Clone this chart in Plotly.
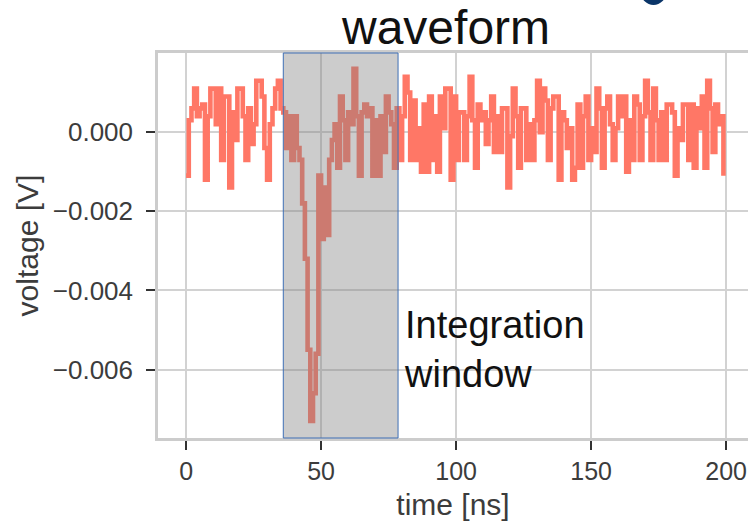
import plotly.graph_objects as go

time_ns = list(range(200))

# Recorded voltage per sample [V]
voltage_v = [
    -0.0011, 0.0003, 0.0006, 0.0011, 0.0004, 0.0006, 0.0007, -0.0012, 0.0004, 0.0011,
    0.0011, 0.0002, 0.0011, -0.0007, 0.0009, 0.0009, -0.0014, 0.0005, -0.0002, 0.0011,
    0.0011, 0.0004, -0.0007, 0.0006, -0.0003, 0.0002, 0.0013, 0.0013, 0.0009, -0.0004,
    -0.0012, 0.0002, 0.0006, 0.0011, 0.0013, 0.0006, 0.0005, -0.0004, 0.0004, -0.0007,
    0.0004, -0.0004, -0.0007, -0.0018, -0.0032, -0.0055, -0.0073, -0.0066, -0.0056, -0.0011,
    -0.0027, -0.0014, -0.0026, -0.0007, -0.0002, 0.0002, -0.0009, 0.0009, 0.0003, -0.0007,
    0.0005, 0.0002, 0.0016, 0.0004, -0.0011, 0.0005, 0.0007, 0.0004, 0.0006, -0.0011,
    0.0003, -0.0011, 0.0004, -0.0005, 0.0009, 0.0005, 0.0002, -0.0009, 0.0006, -0.0007,
    0.0004, 0.0014, 0.0010, -0.0007, 0.0008, -0.0007, 0.0001, -0.0010, 0.0007, -0.0010,
    0.0009, -0.0007, 0.0004, -0.0010, 0.0009, 0.0001, 0.0011, 0.0011, -0.0012, 0.0009,
    -0.0007, 0.0005, 0.0005, -0.0007, 0.0004, 0.0014, 0.0003, -0.0009, 0.0007, 0.0003,
    0.0005, -0.0003, 0.0003, 0.0009, -0.0005, 0.0004, -0.0005, 0.0006, 0.0006, -0.0014,
    -0.0001, 0.0011, 0.0004, -0.0009, 0.0006, 0.0006, -0.0007, 0.0002, -0.0007, 0.0003,
    0.0013, 0.0000, 0.0011, 0.0008, -0.0007, 0.0006, 0.0009, 0.0009, -0.0012, 0.0005,
    0.0003, -0.0004, 0.0001, -0.0012, -0.0009, 0.0007, -0.0009, 0.0004, 0.0009, -0.0007,
    0.0001, -0.0005, 0.0011, 0.0006, -0.0009, 0.0006, 0.0009, 0.0002, -0.0007, 0.0001,
    0.0009, 0.0004, 0.0009, -0.0010, 0.0003, -0.0007, 0.0009, 0.0007, -0.0007, 0.0004,
    0.0013, 0.0005, -0.0007, 0.0011, 0.0003, -0.0007, 0.0005, -0.0007, 0.0007, 0.0007,
    0.0005, -0.0011, 0.0001, -0.0002, 0.0007, 0.0007, -0.0007, 0.0007, -0.0009, 0.0006,
    0.0001, 0.0009, -0.0009, 0.0013, 0.0006, -0.0005, 0.0007, 0.0002, 0.0004, -0.0011,
]

# Charge integration window [ns]
window_start = 36
window_end = 78.5

x_ticks = [0, 50, 100, 150, 200]
y_ticks = [0.0, -0.002, -0.004, -0.006]

FONT = "Liberation Sans, Arial, sans-serif"
TICK_GREY = "#3c3c3c"
GRID = "#d2d2d2"
SPINE = "#cccccc"

fig = go.Figure()
fig.add_trace(go.Scatter(
    x=time_ns, y=voltage_v, mode="lines",
    line=dict(color="#ff7766", width=4.6, shape="hv"),
    hoverinfo="skip", showlegend=False,
))

# Shaded integration window, drawn over the trace
fig.add_shape(
    type="rect", xref="x", yref="paper",
    x0=window_start, x1=window_end, y0=0, y1=1,
    fillcolor="rgba(128,128,128,0.4)",
    line=dict(color="#3f6fb5", width=1),
    layer="above",
)

fig.add_annotation(
    x=window_end + 1.5, y=0.23, xref="x", yref="paper",
    text="Integration<br>window", showarrow=False,
    xanchor="left", yanchor="middle", align="left",
    font=dict(family=FONT, size=38, color="#111111"),
)

fig.add_annotation(
    x=(445 - 158) / 590, y=1 - 3 / 385, xref="paper", yref="paper",
    text="waveform", showarrow=False,
    xanchor="center", yanchor="bottom",
    font=dict(family=FONT, size=48, color="#111111"),
)

# navy glyph edge at the top border
fig.add_shape(
    type="circle", xref="paper", yref="paper",
    x0=(641 - 158) / 590, x1=(666 - 158) / 590,
    y0=(438 - 5) / 385, y1=(438 + 20) / 385,
    fillcolor="#0a3568", line=dict(width=0),
    layer="above",
)

fig.update_xaxes(
    range=[-10.4, 208.1],
    tickvals=x_ticks, ticktext=[str(v) for v in x_ticks],
    showgrid=True, gridcolor=GRID, gridwidth=1.5,
    showline=True, linecolor=SPINE, linewidth=2.5, mirror=True,
    ticks="outside", ticklen=9, tickwidth=1.5, tickcolor="#333333",
    zeroline=False,
    tickfont=dict(family=FONT, size=25, color=TICK_GREY),
    title=dict(text="time [ns]", font=dict(family=FONT, size=30, color=TICK_GREY), standoff=11),
)
fig.update_yaxes(
    range=[-0.00773, 0.002],
    tickvals=y_ticks, tickformat=".3f",
    showgrid=True, gridcolor=GRID, gridwidth=1.5,
    showline=True, linecolor=SPINE, linewidth=2.5, mirror=False,
    ticks="outside", ticklen=9, tickwidth=1.5, tickcolor="#333333",
    zeroline=False, ticklabelstandoff=8,
    tickfont=dict(family=FONT, size=26, color=TICK_GREY),
    title=dict(text="voltage [V]", font=dict(family=FONT, size=30, color=TICK_GREY), standoff=6),
)

fig.update_layout(
    width=748, height=525,
    margin=dict(l=158, r=0, t=53, b=87),
    paper_bgcolor="white", plot_bgcolor="white",
)

fig.write_html("out.html")
